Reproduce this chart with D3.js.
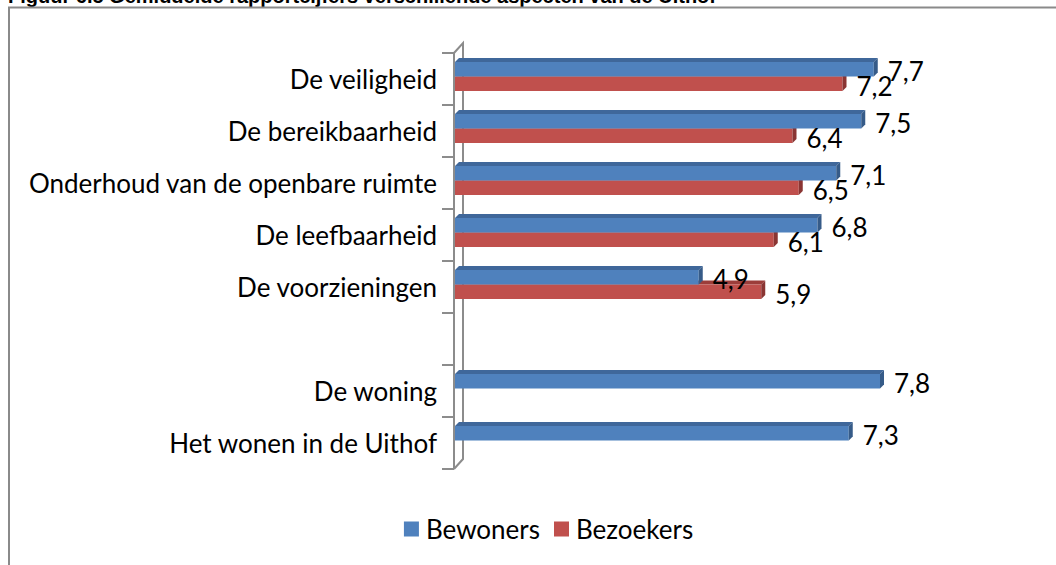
<!DOCTYPE html>
<html>
<head>
<meta charset="utf-8">
<script src="https://cdn.jsdelivr.net/npm/d3@7"></script>
<style>
	body { margin: 0; background: #ffffff; }
	svg text { font-family: Lato, "Liberation Sans", Arial, sans-serif; fill: #000000; }
</style>
</head>
<body>
<script>
	var titleText = "Figuur 6.5 Gemiddelde rapportcijfers verschillende aspecten van de Uithof";
	var categories = [ "De veiligheid", "De bereikbaarheid", "Onderhoud van de openbare ruimte", "De leefbaarheid",
			"De voorzieningen", "", "De woning", "Het wonen in de Uithof" ];
	var seriesNames = [ "Bewoners", "Bezoekers" ];
	var bewoners = [ 7.7, 7.5, 7.1, 6.8, 4.9, null, 7.8, 7.3 ];
	var bezoekers = [ 7.2, 6.4, 6.5, 6.1, 5.9, null, null, null ];

	var faceColors = {
		Bewoners : { front : "#4f81bd", top : "#3f679a", side : "#365b88" },
		Bezoekers : { front : "#c0504d", top : "#9c3d3a", side : "#8a3533" }
	};

	var width = 1056, height = 565;
	var fontSize = 26;
	var depthX = 4, depthY = 4; // bar depth
	var wallX = 9, wallY = 10; // depth of the axis wall

	var svg = d3.select("body").append("svg")//
	.attr("width", width)//
	.attr("height", height);

	// title, mostly cut off by the top of the picture
	svg.append("text")//
	.attr("x", 8)//
	.attr("y", 2.5)//
	.style("font-family", "'Liberation Sans', Arial, sans-serif")//
	.style("font-weight", "bold")//
	.style("font-size", "20px")//
	.text(titleText);

	// chart frame
	svg.append("path")//
	.attr("d", "M9," + (height + 2) + "V7.5H" + (width + 2))//
	.attr("fill", "none")//
	.attr("stroke", "#8a8a8a")//
	.attr("stroke-width", 2);

	var x = d3.scaleLinear().domain([ 1, 10 ]).range([ 455, 1017.5 ]);
	var y0 = d3.scaleBand().domain(d3.range(categories.length)).range([ 53, 469 ]);
	var groupHeight = 29;
	var y1 = d3.scaleBand().domain(seriesNames).range([ 0, groupHeight ]);
	var fmt = d3.formatLocale({ decimal : ",", thousands : ".", grouping : [ 3 ], currency : [ "€", "" ] }).format(".1f");

	function groupTop(i) {
		return y0(i) + (y0.bandwidth() - groupHeight) / 2 - 2.5;
	}

	// axis wall
	var x0 = x.domain()[0];
	var front = x(x0) - 1;
	var yTop = y0.range()[0], yBottom = y0.range()[1];
	var wall = svg.append("g").attr("class", "wall")//
	.attr("fill", "none")//
	.attr("stroke", "#8c8c8c")//
	.attr("stroke-width", 2);
	wall.append("path")//
	.attr("d", "M" + front + "," + yBottom + "V" + yTop + "L" + (front + wallX) + "," + (yTop - wallY) + "V"
			+ (yBottom - wallY) + "L" + front + "," + yBottom);
	var tickYs = y0.domain().map(function(i) {
		return y0(i);
	}).concat([ yBottom ]);
	wall.selectAll(".tick").data(tickYs).enter().append("line")//
	.attr("class", "tick")//
	.attr("x1", front - 12)//
	.attr("x2", front)//
	.attr("y1", function(d) {
		return d;
	})//
	.attr("y2", function(d) {
		return d;
	});

	// category labels
	svg.selectAll(".cat-label").data(categories).enter().append("text")//
	.attr("class", "cat-label")//
	.attr("x", front - 17)//
	.attr("y", function(d, i) {
		return y0(i) + y0.bandwidth() / 2;
	})//
	.style("font-size", fontSize + "px")//
	.style("text-anchor", "end")//
	.style("dominant-baseline", "central")//
	.text(function(d) {
		return d;
	});

	// bars, drawn bottom series first so the upper one hides its top face
	var bars = [];
	categories.forEach(function(c, i) {
		[ [ "Bezoekers", bezoekers[i] ], [ "Bewoners", bewoners[i] ] ].forEach(function(s) {
			if (s[1] != null) {
				bars.push({ series : s[0], index : i, value : s[1] });
			}
		});
	});

	var barG = svg.selectAll(".bar").data(bars).enter().append("g").attr("class", "bar");

	function barGeom(d) {
		var top = groupTop(d.index) + y1(d.series);
		return { xa : x(x0), xb : x(d.value), top : top, h : y1.bandwidth() };
	}

	barG.append("path")//
	.attr("fill", function(d) {
		return faceColors[d.series].top;
	})//
	.attr("d", function(d) {
		var g = barGeom(d);
		return "M" + g.xa + "," + g.top + "H" + g.xb + "l" + depthX + "," + (-depthY) + "H" + (g.xa + depthX) + "Z";
	});
	barG.append("rect")//
	.attr("fill", function(d) {
		return faceColors[d.series].front;
	})//
	.attr("x", function(d) {
		return barGeom(d).xa;
	})//
	.attr("y", function(d) {
		return barGeom(d).top;
	})//
	.attr("width", function(d) {
		var g = barGeom(d);
		return g.xb - g.xa;
	})//
	.attr("height", function(d) {
		return barGeom(d).h;
	});
	barG.append("path")//
	.attr("fill", function(d) {
		return faceColors[d.series].side;
	})//
	.attr("d", function(d) {
		var g = barGeom(d);
		return "M" + g.xb + "," + g.top + "l" + depthX + "," + (-depthY) + "v" + g.h + "l" + (-depthX) + "," + depthY + "Z";
	});

	// value labels
	svg.selectAll(".value-label").data(bars).enter().append("text")//
	.attr("class", "value-label")//
	.attr("x", function(d) {
		return x(d.value) + depthX + 10;
	})//
	.attr("y", function(d) {
		var g = barGeom(d);
		return g.top + g.h / 2 + 2;
	})//
	.style("font-size", fontSize + "px")//
	.style("dominant-baseline", "central")//
	.text(function(d) {
		return fmt(d.value);
	});

	// legend
	var legend = svg.append("g").attr("class", "legend");
	var legendY = 529;
	var item = legend.selectAll(".item").data(seriesNames).enter().append("g").attr("class", "item");
	item.append("rect")//
	.attr("width", 15)//
	.attr("height", 15)//
	.attr("y", legendY - 7.5)//
	.attr("fill", function(d) {
		return faceColors[d].front;
	});
	item.append("text")//
	.attr("x", 22)//
	.attr("y", legendY)//
	.style("font-size", fontSize + "px")//
	.style("dominant-baseline", "central")//
	.text(function(d) {
		return d;
	});
	// lay the items out from the right one, which starts at x=554
	var offset = 554;
	var widths = [];
	item.each(function() {
		widths.push(22 + d3.select(this).select("text").node().getComputedTextLength());
	});
	item.attr("transform", function(d, i) {
		var left = i == 1 ? offset : offset - widths[0] - 14;
		return "translate(" + left + ",0)";
	});
</script>
</body>
</html>
